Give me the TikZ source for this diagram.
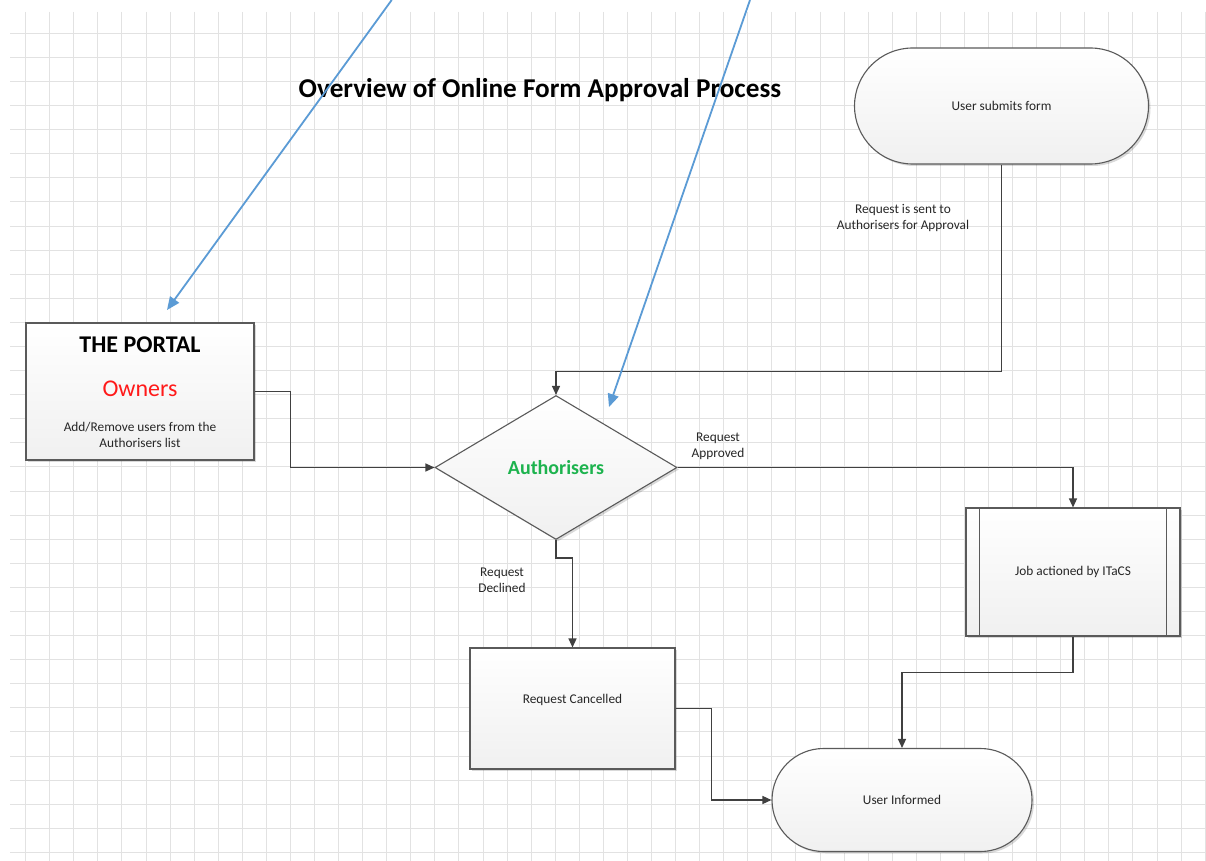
\documentclass[tikz,border=0pt]{standalone}
\usepackage{fontspec}
\setmainfont{Carlito}
\usetikzlibrary{shapes.geometric,shadows,arrows.meta}
\definecolor{gridc}{HTML}{E2E2E2}
\definecolor{linec}{HTML}{404040}
\definecolor{bluec}{HTML}{5B9BD5}
\definecolor{greenc}{HTML}{1DB34E}
\definecolor{borderc}{HTML}{5A5A5A}
\definecolor{txtc}{HTML}{262626}
\definecolor{shadec}{HTML}{F0F0F0}
\definecolor{ownerc}{HTML}{FF1A1A}
\tikzset{
  gridline/.style={draw=gridc, line width=1pt},
  shapebox/.style={draw=borderc, line width=1.1pt, top color=white, bottom color=shadec,
    inner sep=0pt, text=txtc, font=\fontsize{13.33}{16}\selectfont,
    drop shadow={shadow xshift=2pt, shadow yshift=-2pt, opacity=0.15, fill=black}},
  innerline/.style={draw=borderc, line width=1.1pt},
  conn/.style={draw=linec, line width=1.3pt, -{Triangle[width=8pt,length=9pt]}},
  bluearrow/.style={draw=bluec, line width=1.8pt, -{Triangle[width=11pt,length=13pt]}},
  smalltxt/.style={text=txtc, font=\fontsize{13.33}{16}\selectfont, align=center, inner sep=0pt},
}
\begin{document}
\begin{tikzpicture}[x=1pt,y=-1pt]
\useasboundingbox (0,0) rectangle (1206,861);
\fill[white] (0,0) rectangle (1206,861);
% grid
\foreach \k in {0,...,49} {
  \draw[gridline] ({25.7+24.07*\k},12) -- ({25.7+24.07*\k},861);
}
\foreach \k in {0,...,34} {
  \draw[gridline] (10,{33.3+24.09*\k}) -- (1206,{33.3+24.09*\k});
}
% title
\node[anchor=base, inner sep=0pt, font=\bfseries\fontsize{27.2}{32}\selectfont] (title) at (540,98) {Overview of Online Form Approval Process};
% shapes
\node[shapebox, rounded corners=58pt, minimum width=294pt, minimum height=116pt] (submit) at (1001.5,106) {User submits form};
\node[shapebox, minimum width=228pt, minimum height=137pt] (portal) at (140,391.5) {};
\node[anchor=base, inner sep=0pt, font=\bfseries\fontsize{24}{28}\selectfont] (portaltitle) at (140,352) {THE PORTAL};
\node[anchor=base, inner sep=0pt, text=ownerc, font=\fontsize{24}{28}\selectfont] (owners) at (140,396) {Owners};
\node[smalltxt, anchor=base] (portaltxt) at (140,447.5) {Add/Remove users from the\\Authorisers list};
\node[shapebox, diamond, minimum width=242pt, minimum height=144pt, text=greenc, font=\bfseries\fontsize{20}{24}\selectfont] (auth) at (556,467.5) {Authorisers};
\node[shapebox, minimum width=214pt, minimum height=128pt] (job) at (1073,572) {Job actioned by ITaCS};
\draw[innerline] ([xshift=14pt]job.north west) -- ([xshift=14pt]job.south west);
\draw[innerline] ([xshift=-14pt]job.north east) -- ([xshift=-14pt]job.south east);
\node[shapebox, minimum width=205pt, minimum height=121pt] (cancel) at (572.5,708.5) {};
\node[smalltxt] (canceltxt) at (572.5,700) {Request Cancelled};
\node[shapebox, rounded corners=51.5pt, minimum width=260pt, minimum height=103pt] (inform) at (902,800) {User Informed};
% connectors
\draw[conn] (submit.south) -- ++(0,207) -| (auth.north);
\draw[conn] (portal.east) -- ++(36,0) |- (auth.west);
\draw[conn] (auth.east) -| (job.north);
\draw[conn] (auth.south) -- ++(0,18) -| (cancel.north);
\draw[conn] (cancel.east) -- ++(36,0) |- (inform.west);
\draw[conn] (job.south) -- ++(0,36) -| (inform.north);
% labels
\node[smalltxt, anchor=base] (lblsent) at (903,229.3) {Request is sent to\\Authorisers for Approval};
\node[smalltxt, anchor=base] (lblappr) at (718,457.7) {Request\\Approved};
\node[smalltxt, anchor=base] (lbldecl) at (502,592) {Request\\Declined};
% blue arrows
\coordinate (b1s) at (391.7,0);
\coordinate (b1e) at (167,310);
\coordinate (b2s) at (750,0);
\coordinate (b2e) at (609,407);
\draw[bluearrow] (b1s) -- (b1e);
\draw[bluearrow] (b2s) -- (b2e);
\end{tikzpicture}
\end{document}
